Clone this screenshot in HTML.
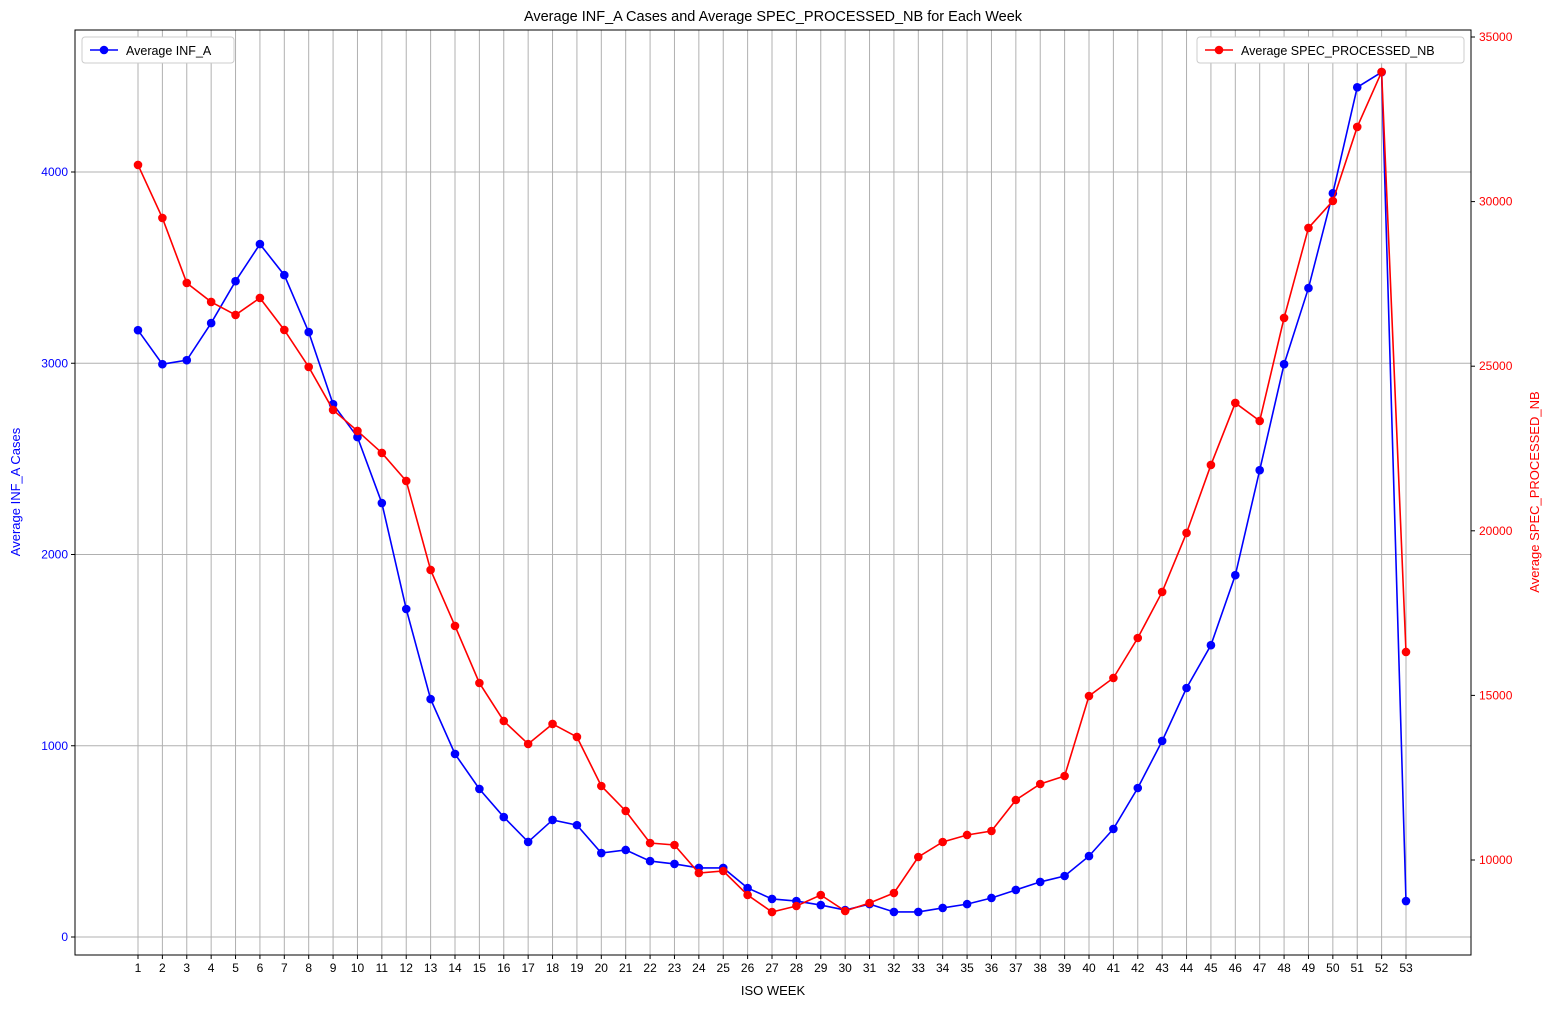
<!DOCTYPE html>
<html><head><meta charset="utf-8"><style>
html,body{margin:0;padding:0;background:#fff;}
svg{font-family:"Liberation Sans","DejaVu Sans",sans-serif;}
</style></head><body>
<svg id="chart" width="1553" height="1007" xmlns="http://www.w3.org/2000/svg"></svg>
<script>
const weeks = Array.from({length:53},(_,i)=>i+1);
const infA = [3173,2995,3016,3210,3429,3623,3461,3163,2786,2614,2269,1715,1244,957,774,627,497,612,585,439,455,397,382,361,361,256,199,188,167,141,172,131,131,152,172,204,246,288,319,423,565,779,1025,1302,1526,1892,2441,2995,3393,3889,4443,4522,188];
const specNB = [31113,29504,27529,26952,26557,27073,26101,24977,23671,23033,22365,21514,18810,17109,15377,14223,13524,14132,13737,12248,11489,10516,10456,9605,9666,8937,8420,8603,8937,8451,8694,8997,10091,10547,10760,10881,11823,12309,12552,14982,15529,16744,18142,19934,22000,23884,23337,26466,29200,30020,32268,33940,16319];
const leftTicks = [0,1000,2000,3000,4000];
const rightTicks = [10000,15000,20000,25000,30000,35000];

const NS="http://www.w3.org/2000/svg";
const svg=document.getElementById('chart');
const L=75,R=1471,T=30,B=955;
const xs=w=>138+(w-1)*(1406-138)/52;
const yl=v=>937-v*0.19125;
const yr=v=>860-(v-10000)*(164.6/5000);
function el(tag,attrs,parent){const e=document.createElementNS(NS,tag);for(const k in attrs)e.setAttribute(k,attrs[k]);(parent||svg).appendChild(e);return e;}
function txt(s,attrs,parent){const e=el('text',attrs,parent);e.textContent=s;return e;}

const grid=el('g',{});


weeks.forEach(w=>{el('line',{x1:xs(w),x2:xs(w),y1:T,y2:B,stroke:'#b0b0b0','stroke-width':1},grid);});
leftTicks.forEach(v=>{el('line',{x1:L,x2:R,y1:yl(v),y2:yl(v),stroke:'#b0b0b0','stroke-width':1},grid);});

const xa=el('g',{});


weeks.forEach(w=>{el('line',{x1:xs(w),x2:xs(w),y1:B,y2:B+4,stroke:'#000'},xa);txt(String(w),{x:xs(w),y:B+17,'font-size':12,'text-anchor':'middle'},xa);});
const xt=txt('ISO WEEK',{x:773,y:995,'font-size':13,'text-anchor':'middle'});



const la=el('g',{});


leftTicks.forEach(v=>{el('line',{x1:L-4,x2:L,y1:yl(v),y2:yl(v),stroke:'#000'},la);txt(String(v),{x:L-7,y:yl(v)+4,'font-size':12,'text-anchor':'end',fill:'blue'},la);});
const lt=txt('Average INF_A Cases',{x:20,y:492,'font-size':13,'text-anchor':'middle',fill:'blue',transform:'rotate(-90 20 492)'});



const ra=el('g',{});


rightTicks.forEach(v=>{el('line',{x1:R,x2:R+4,y1:yr(v),y2:yr(v),stroke:'#000'},ra);txt(String(v),{x:R+8,y:yr(v)+4,'font-size':12,fill:'red'},ra);});
const rt=txt('Average SPEC_PROCESSED_NB',{x:1539,y:492,'font-size':13,'text-anchor':'middle',fill:'red',transform:'rotate(-90 1539 492)'});



function series(vals,yf,color,name){
  const g=el('g',{});
  
  
  el('polyline',{points:vals.map((v,i)=>xs(weeks[i])+','+yf(v)).join(' '),fill:'none',stroke:color,'stroke-width':1.6},g);
  vals.forEach((v,i)=>{const c=el('circle',{cx:xs(weeks[i]),cy:yf(v),r:4.3,fill:color},g);
    
    });
}
series(infA,yl,'blue','inf-a-series');
series(specNB,yr,'red','spec-processed-series');

el('rect',{x:L,y:T,width:R-L,height:B-T,fill:'none',stroke:'#000','stroke-width':1});
const title=txt('Average INF_A Cases and Average SPEC_PROCESSED_NB for Each Week',{x:773,y:21,'font-size':14.5,'text-anchor':'middle'});



function legend(x,y,w,color,label,name){
  const g=el('g',{});
  
  
  el('rect',{x:x,y:y,width:w,height:26,rx:3,fill:'#fff',stroke:'#ccc'},g);
  el('line',{x1:x+8,x2:x+36,y1:y+13,y2:y+13,stroke:color,'stroke-width':1.6},g);
  el('circle',{cx:x+22,cy:y+13,r:4.3,fill:color},g);
  txt(label,{x:x+44,y:y+18,'font-size':12.5},g);
}
legend(82,37,152,'blue','Average INF_A','legend-inf-a');
legend(1197,37,267,'red','Average SPEC_PROCESSED_NB','legend-spec-processed');
</script>
</body></html>
